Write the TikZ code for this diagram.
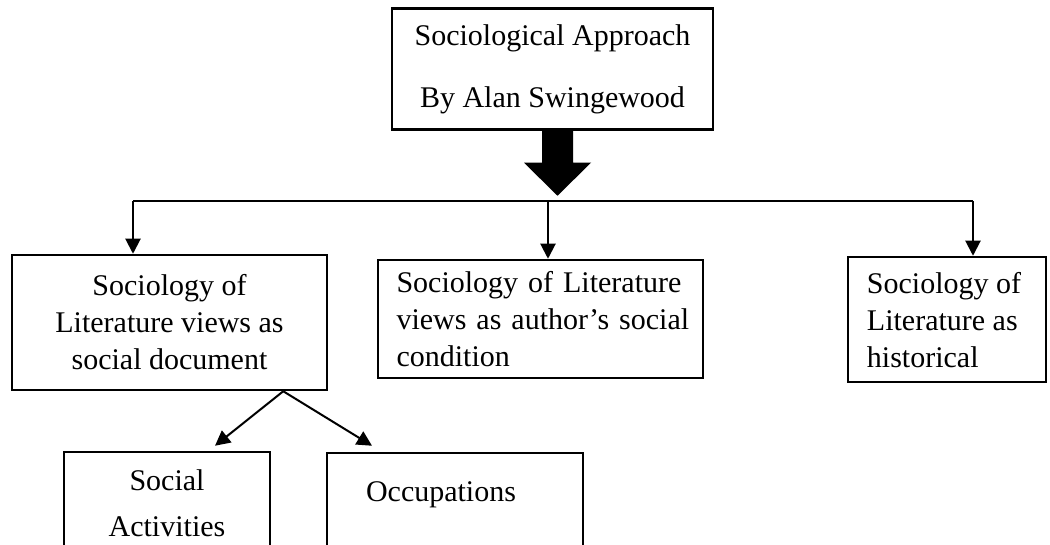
\documentclass[tikz,border=0pt]{standalone}
\usepackage{fontspec}
\setmainfont{Liberation Serif}
\usetikzlibrary{arrows.meta,calc}
\begin{document}
\begin{tikzpicture}[x=1pt,y=-1pt,
  box/.style={draw,line width=2.5pt,rectangle,inner sep=0pt,font=\fontsize{30}{37}\selectfont},
  conn/.style={line width=2pt,-{Triangle[length=15pt,width=15pt]}},
  txt/.style={font=\fontsize{30}{37}\selectfont,inner sep=0pt}
]
\useasboundingbox[fill=white] (0,0) rectangle (1050,545);

\node[box,minimum width=321pt,minimum height=121pt,align=center,font=\fontsize{30}{62}\selectfont] (top) at (552.5,69) {Sociological Approach\\By Alan Swingewood};

\node[box,minimum width=315pt,minimum height=135pt,align=center] (ldoc) at (169.5,322.5) {Sociology of\\Literature views as\\social document};

\node[box,minimum width=325pt,minimum height=118pt,text width=288pt,align=left] (mdoc) at (540.5,319) {\makebox[288pt][s]{Sociology of Literature}\\\makebox[288pt][s]{views as author’s social}\\condition};

\node[box,minimum width=198pt,minimum height=125pt] (rdoc) at (947,319.5) {};
\node[txt,align=flush left,anchor=west] (rdoct) at ($(rdoc.west)+(20,1)$) {Sociology of\\Literature as\\historical};

\node[box,minimum width=206pt,minimum height=102pt,align=center,font=\fontsize{30}{46}\selectfont] (soc) at (167,503) {Social\\Activities};

\node[box,minimum width=256pt,minimum height=110pt] (occ) at (455,508) {};
\node[txt] (occt) at ($(occ.north)+(-14,43)$) {Occupations};

% big arrow
\coordinate (ba) at ($(top.south)+(5,0)$);
\fill (ba) +(-15.5,0) -- +(15.5,0) -- +(15.5,32) -- +(33.5,32) -- +(0,65) -- +(-33.5,32) -- +(-15.5,32) -- cycle;

% distribution line
\coordinate (jl) at (133,201);
\coordinate (jm) at (548,201);
\coordinate (jr) at (973,201);
\draw[line width=1.3pt] (jl) -- (jr);
\draw[conn] (jl) -- (jl |- ldoc.north);
\draw[conn] (jm) -- (jm |- mdoc.north);
\draw[conn] (jr) -- (jr |- rdoc.north);

% lower arrows
\coordinate (ds) at ($(ldoc.south east)+(-45,0)$);
\draw[conn] (ds) -- ($(soc.north)+(48,-5)$);
\draw[conn] (ds) -- ($(occ.north)+(-83,-6)$);
\end{tikzpicture}
\end{document}
